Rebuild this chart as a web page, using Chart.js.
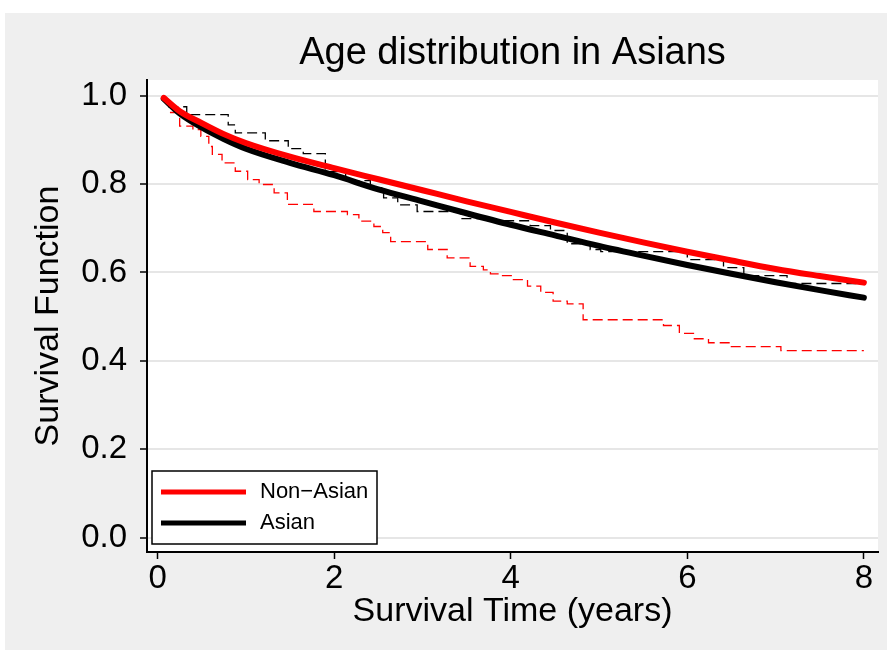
<!DOCTYPE html>
<html><head><meta charset="utf-8">
<script src="https://cdn.jsdelivr.net/npm/chart.js@4"></script>
<style>html,body{margin:0;padding:0;background:#fff;overflow:hidden}#wrap{width:887px;height:653px}</style>
</head><body><div id="wrap"><canvas id="c" width="887" height="653"></canvas></div>
<script>
const chartTitle = "Age distribution in Asians";
const xAxisTitle = "Survival Time (years)";
const yAxisTitle = "Survival Function";
const seriesNames = ["Non\u2212Asian", "Asian"];
const xTicks = [0, 2, 4, 6, 8];
const yTicks = [0, 0.2, 0.4, 0.6, 0.8, 1.0];

// fitted (smooth) survival curves
const fitTimes    = [0.07, 0.25, 0.5, 0.75, 1, 1.5, 2, 2.5, 3, 3.5, 4, 4.5, 5, 5.5, 6, 6.5, 7, 7.5, 8];
const nonAsianFit = [0.995, 0.965, 0.938, 0.913, 0.893, 0.862, 0.836, 0.811, 0.786, 0.761, 0.737, 0.713, 0.690, 0.668, 0.647, 0.627, 0.608, 0.592, 0.577];
const asianFit    = [0.993, 0.960, 0.928, 0.902, 0.880, 0.848, 0.820, 0.788, 0.761, 0.734, 0.708, 0.684, 0.660, 0.638, 0.617, 0.597, 0.578, 0.560, 0.543];

// Kaplan-Meier step estimates (dashed)
const nonAsianKMTimes = [0.14, 0.25, 0.40, 0.49, 0.58, 0.62, 0.73, 0.88, 1.02, 1.15, 1.32, 1.47, 1.77, 2.15, 2.28, 2.45, 2.55, 2.64, 3.06, 3.28, 3.54, 3.69, 3.77, 3.88, 4.03, 4.19, 4.34, 4.48, 4.64, 4.82, 5.73, 5.91, 6.07, 6.24, 6.49, 7.06, 8.0];
const nonAsianKMSurv  = [0.962, 0.931, 0.923, 0.908, 0.885, 0.867, 0.848, 0.829, 0.810, 0.799, 0.780, 0.754, 0.738, 0.731, 0.716, 0.704, 0.690, 0.670, 0.652, 0.633, 0.614, 0.606, 0.597, 0.593, 0.584, 0.569, 0.555, 0.535, 0.529, 0.493, 0.480, 0.462, 0.450, 0.441, 0.432, 0.423, 0.423];
const asianKMTimes = [0.12, 0.33, 0.80, 0.88, 1.22, 1.48, 1.65, 1.90, 2.13, 2.41, 2.56, 2.72, 2.94, 3.43, 3.77, 4.22, 4.45, 4.64, 4.90, 5.02, 6.00, 6.41, 6.64, 7.13, 8.0];
const asianKMSurv  = [0.975, 0.957, 0.934, 0.916, 0.898, 0.880, 0.869, 0.828, 0.808, 0.792, 0.769, 0.753, 0.738, 0.722, 0.717, 0.706, 0.695, 0.665, 0.652, 0.647, 0.629, 0.611, 0.593, 0.575, 0.575];

const FONT = "'Liberation Sans', Arial, Helvetica, sans-serif";
const pts = (xs, ys) => xs.map((x, i) => ({x: x, y: ys[i]}));

const bgPlugin = {
  id: 'bg',
  beforeDraw(chart) {
    const {ctx, chartArea: a, width, height} = chart;
    ctx.save();
    ctx.fillStyle = '#ffffff';
    ctx.fillRect(0, 0, width, height);
    ctx.fillStyle = '#efefef';
    ctx.fillRect(5, 13, width - 5, 637);
    ctx.fillStyle = '#ffffff';
    ctx.fillRect(a.left, a.top, a.right - a.left, a.bottom - a.top);
    ctx.restore();
  }
};

const legendPlugin = {
  id: 'boxLegend',
  afterDatasetsDraw(chart) {
    const ctx = chart.ctx;
    const ds = chart.data.datasets.filter(d => d.inLegend);
    ctx.save();
    ctx.fillStyle = '#ffffff';
    ctx.fillRect(152, 471, 225, 73);
    ctx.strokeStyle = '#000';
    ctx.lineWidth = 1.5;
    ctx.strokeRect(152, 471, 225, 73);
    ds.forEach((d, i) => {
      const y = 492 + i * 31;
      ctx.beginPath();
      ctx.strokeStyle = d.borderColor;
      ctx.lineWidth = 5;
      ctx.lineCap = 'butt';
      ctx.moveTo(161, y);
      ctx.lineTo(246, y);
      ctx.stroke();
      ctx.fillStyle = '#000';
      ctx.font = '22px ' + FONT;
      ctx.textBaseline = 'middle';
      ctx.textAlign = 'left';
      ctx.fillText(d.label, 260, y);
    });
    ctx.restore();
  }
};

new Chart(document.getElementById('c'), {
  type: 'line',
  data: {
    datasets: [
      {label: seriesNames[0], inLegend: true, data: pts(fitTimes, nonAsianFit), borderColor: '#ff0000', borderWidth: 6,
       pointRadius: 0, cubicInterpolationMode: 'monotone', borderCapStyle: 'round', borderJoinStyle: 'round', fill: false},
      {label: seriesNames[1], inLegend: true, data: pts(fitTimes, asianFit), borderColor: '#000000', borderWidth: 6,
       pointRadius: 0, cubicInterpolationMode: 'monotone', borderCapStyle: 'round', borderJoinStyle: 'round', fill: false},
      {label: seriesNames[0] + ' KM', data: pts(nonAsianKMTimes, nonAsianKMSurv), borderColor: '#ff0000', borderWidth: 1.3,
       borderDash: [10, 5], pointRadius: 0, stepped: 'before', fill: false},
      {label: seriesNames[1] + ' KM', data: pts(asianKMTimes, asianKMSurv), borderColor: '#000000', borderWidth: 1.3,
       borderDash: [10, 5], pointRadius: 0, stepped: 'before', fill: false}
    ]
  },
  options: {
    responsive: false,
    animation: false,
    devicePixelRatio: 1,
    layout: {padding: {left: 0, right: 9, top: 0, bottom: 0}},
    plugins: {
      legend: {display: false},
      tooltip: {enabled: false},
      title: {display: true, text: chartTitle, fullSize: false, color: '#000',
              font: {size: 38, family: FONT, weight: 'normal'}, padding: {top: 31, bottom: 3.4}}
    },
    scales: {
      x: {
        type: 'linear', min: -0.12, max: 8.16,
        afterBuildTicks(s) { s.ticks = xTicks.map(v => ({value: v})); },
        afterFit(s) { s.height = 101; },
        grid: {drawOnChartArea: false, drawTicks: true, tickLength: 7, tickColor: '#000', tickWidth: 1.5},
        border: {display: true, color: '#000', width: 2},
        ticks: {color: '#000', font: {size: 33, family: FONT}, padding: 0, maxRotation: 0, autoSkip: false,
                callback: v => String(v)},
        title: {display: true, text: xAxisTitle, color: '#000', font: {size: 34, family: FONT}, padding: {top: 0, bottom: 21}}
      },
      y: {
        type: 'linear', min: -0.0325, max: 1.0355,
        afterBuildTicks(s) { s.ticks = yTicks.map(v => ({value: v})); },
        afterFit(s) { s.width = 147; },
        grid: {color: '#e6e6e6', lineWidth: 2, drawTicks: true, tickLength: 7, tickColor: '#000', tickWidth: 1.5},
        border: {display: true, color: '#000', width: 2},
        ticks: {color: '#000', font: {size: 33, family: FONT}, padding: 13, autoSkip: false,
                callback: v => Number(v).toFixed(1)},
        title: {display: true, text: yAxisTitle, color: '#000', font: {size: 34, family: FONT}, padding: {top: 28, bottom: 0}}
      }
    }
  },
  plugins: [bgPlugin, legendPlugin]
});
</script>
</body></html>
